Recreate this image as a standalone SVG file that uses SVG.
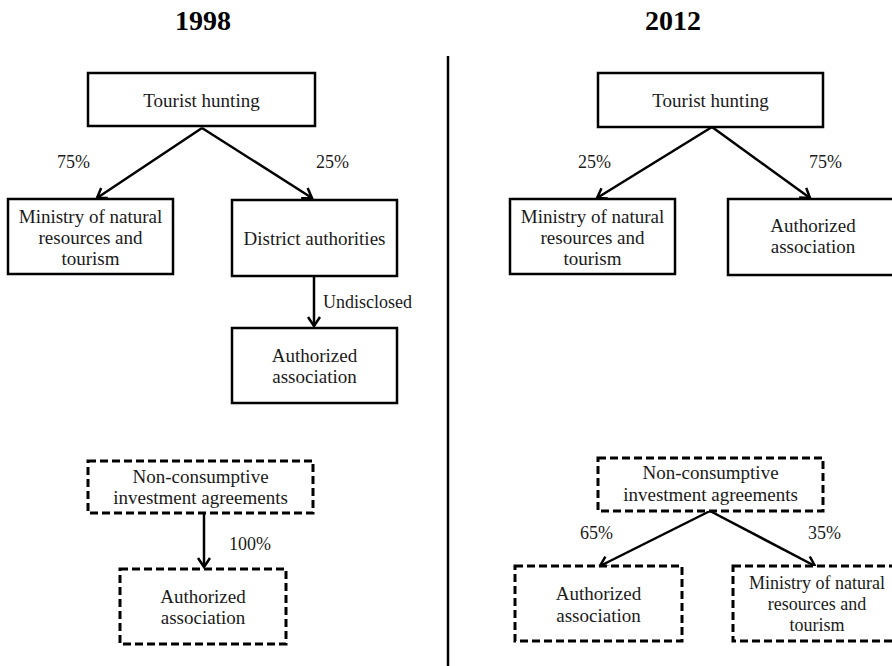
<svg xmlns="http://www.w3.org/2000/svg" width="892" height="666" viewBox="0 0 892 666">
<defs>
<style>
.box{fill:#fff;stroke:#000;stroke-width:2.5}
.dash{fill:#fff;stroke:#000;stroke-width:3;stroke-dasharray:8 4}
.t{font-family:"Liberation Serif","Times New Roman",serif;font-size:19px;fill:#1a1a1a;text-anchor:middle}
.s{font-size:18px}
.l{font-family:"Liberation Serif","Times New Roman",serif;font-size:18px;fill:#1a1a1a}
.title{font-family:"Liberation Serif","Times New Roman",serif;font-size:28px;font-weight:bold;fill:#000;text-anchor:middle}
.c{stroke:#000;stroke-width:2.5;fill:none;marker-end:url(#ah)}
</style>
<marker id="ah" markerUnits="userSpaceOnUse" markerWidth="20" markerHeight="20" viewBox="-12 -10 14 20" refX="0" refY="0" orient="auto">
<path d="M-9,-6 L0,0 L-9,6" fill="none" stroke="#000" stroke-width="2.5"/>
</marker>
</defs>
<rect width="892" height="666" fill="#fff"/>
<text class="title" x="203" y="30">1998</text>
<text class="title" x="673" y="30">2012</text>
<line x1="448" y1="56" x2="448" y2="666" stroke="#000" stroke-width="2.5"/>

<g id="connectors">
<line class="c" x1="202" y1="128" x2="97" y2="198"/>
<line class="c" x1="202" y1="128" x2="312" y2="198"/>
<line class="c" x1="314" y1="276" x2="314" y2="326"/>
<line class="c" x1="204" y1="513" x2="204" y2="567"/>
<line class="c" x1="712" y1="127" x2="597" y2="198"/>
<line class="c" x1="712" y1="127" x2="810" y2="198"/>
<line class="c" x1="710" y1="511" x2="600" y2="566"/>
<line class="c" x1="710" y1="511" x2="815" y2="566"/>
<text class="l" x="57" y="168">75%</text>
<text class="l" x="316" y="168">25%</text>
<text class="l" x="323" y="308">Undisclosed</text>
<text class="l" x="229" y="550">100%</text>
<text class="l" x="578" y="168">25%</text>
<text class="l" x="809" y="168">75%</text>
<text class="l" x="580" y="539">65%</text>
<text class="l" x="808" y="539">35%</text>
</g>

<g id="l-tourist">
<rect class="box" x="88" y="73" width="227" height="53"/>
<text class="t" x="201.5" y="107">Tourist  hunting</text>
</g>
<g id="l-ministry">
<rect class="box" x="8" y="199" width="165" height="75"/>
<text class="t" x="90.5" y="223">Ministry of natural</text>
<text class="t" x="90.5" y="244">resources and</text>
<text class="t" x="90.5" y="265">tourism</text>
</g>
<g id="l-district">
<rect class="box" x="232" y="200" width="165" height="76"/>
<text class="t" x="314.5" y="245">District  authorities</text>
</g>
<g id="l-authorized">
<rect class="box" x="232" y="328" width="165" height="75"/>
<text class="t" x="314.5" y="362">Authorized</text>
<text class="t" x="314.5" y="383">association</text>
</g>
<g id="l-nonconsumptive">
<rect class="dash" x="88" y="461" width="225" height="52"/>
<text class="t" x="200.5" y="483">Non-consumptive</text>
<text class="t" x="200.5" y="504">investment  agreements</text>
</g>
<g id="l-authorized2">
<rect class="dash" x="120" y="569" width="166" height="75"/>
<text class="t" x="203" y="603">Authorized</text>
<text class="t" x="203" y="624">association</text>
</g>

<g id="r-tourist">
<rect class="box" x="598" y="73" width="225" height="54"/>
<text class="t" x="710.5" y="107">Tourist  hunting</text>
</g>
<g id="r-ministry">
<rect class="box" x="510" y="199" width="165" height="75"/>
<text class="t" x="592.5" y="223">Ministry of natural</text>
<text class="t" x="592.5" y="244">resources and</text>
<text class="t" x="592.5" y="265">tourism</text>
</g>
<g id="r-authorized">
<rect class="box" x="728" y="199" width="167" height="76"/>
<text class="t" x="813" y="232">Authorized</text>
<text class="t" x="813" y="253">association</text>
</g>
<g id="r-nonconsumptive">
<rect class="dash" x="598" y="458" width="225" height="53"/>
<text class="t" x="710.5" y="479">Non-consumptive</text>
<text class="t" x="710.5" y="501">investment  agreements</text>
</g>
<g id="r-authorized2">
<rect class="dash" x="515" y="566" width="167" height="75"/>
<text class="t" x="598.5" y="600">Authorized</text>
<text class="t" x="598.5" y="622">association</text>
</g>
<g id="r-ministry2">
<rect class="dash" x="733" y="566" width="168" height="75"/>
<text class="t s" x="817" y="589">Ministry of natural</text>
<text class="t s" x="817" y="610">resources and</text>
<text class="t s" x="817" y="631">tourism</text>
</g>
</svg>
